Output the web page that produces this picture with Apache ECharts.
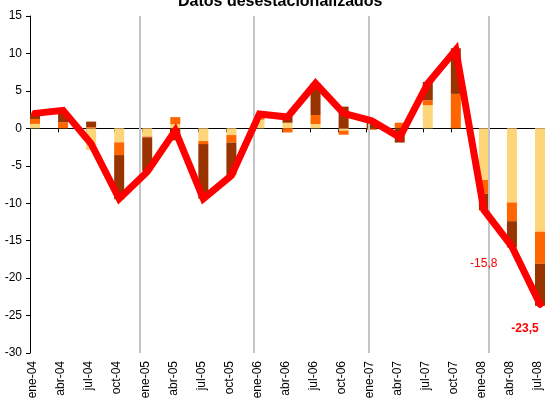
<!DOCTYPE html>
<html>
<head>
<meta charset="utf-8">
<script src="https://cdn.jsdelivr.net/npm/echarts@6/dist/echarts.min.js"></script>
<style>
  html, body { margin: 0; padding: 0; background: #fff; }
  #chart { width: 545px; height: 403px; }
</style>
</head>
<body>
<div id="chart"></div>
<script>
const quarters = ['ene-04', 'abr-04', 'jul-04', 'oct-04', 'ene-05', 'abr-05', 'jul-05', 'oct-05',
  'ene-06', 'abr-06', 'jul-06', 'oct-06', 'ene-07', 'abr-07', 'jul-07', 'oct-07',
  'ene-08', 'abr-08', 'jul-08'];
// stacked contributions (light, orange, dark)
const lightPart = [0.6, 0, -2.9, -1.87, -1.1, 0.55, -1.7, -0.9, 1.15, 0.75, 0.58, -0.3, 0, 0, 3.1, 0, -6.9, -9.9, -13.8];
const orangePart = [0.65, 0.8, 0.15, -1.7, -0.1, 0.95, -0.4, -1.0, 0.3, -0.55, 1.2, -0.55, -0.2, 0.75, 0.65, 4.6, -1.85, -2.5, -4.3];
const darkPart = [0.75, 1.5, 0.75, -5.9, -4.5, -1.6, -7.3, -4.3, 0.4, 1.0, 4.2, 2.9, 1.1, -1.9, 2.45, 6.1, -2.2, -3.5, -5.6];
// total (red line)
const totalLine = [2.0, 2.4, -2.05, -9.4, -5.8, -0.3, -9.4, -6.3, 1.9, 1.5, 6.0, 2.0, 1.0, -1.2, 6.0, 10.5, -10.9, -15.8, -23.5];
// year separators, in category units
const yearBreaks = [3.9, 7.96, 12.09, 16.36];

const STEP = 28.06;      // px per quarter
const SPAN = 515 / STEP; // visible width in quarters
const FONT = 'Arial, "Liberation Sans", sans-serif';

const chart = echarts.init(document.getElementById('chart'));

const fmt = (v) => v.toFixed(1).replace('.', ',');

const lineData = totalLine.map((v, i) => {
  const item = { value: v };
  if (i === quarters.length - 2) {
    item.label = { show: true, position: 'left', distance: 14, offset: [0, 17], fontSize: 12, color: '#FF0000' };
  }
  if (i === quarters.length - 1) {
    item.label = { show: true, position: 'bottom', distance: 18, offset: [-15, 0], fontSize: 12, fontWeight: 'bold', color: '#FF0000' };
  }
  return item;
});

const barSeries = (name, arr, color) => ({
  name,
  type: 'bar',
  xAxisIndex: 3,
  yAxisIndex: 1,
  stack: 'parts',
  barWidth: 10,
  clip: false,
  itemStyle: { color },
  data: arr,
  z: 2,
});

const idx = quarters.map((q, i) => i);
const yRange = { type: 'value', min: -30, max: 15, interval: 5 };

chart.setOption({
  animation: false,
  textStyle: { fontFamily: FONT },
  title: {
    text: 'Datos desestacionalizados',
    left: 178,
    top: -6,
    padding: 0,
    textStyle: { fontSize: 16, fontWeight: 'bold', color: '#000', fontFamily: FONT },
  },
  grid: [
    { left: 30, right: 0, top: 16, bottom: 50 },
    // data grid: each quarter's bar starts at its tick
    { left: 35, right: 5, top: 16, bottom: 50 },
  ],
  xAxis: [
    {
      type: 'value',
      gridIndex: 0,
      min: -0.107,
      max: SPAN - 0.107,
      position: 'bottom',
      axisLine: { show: false, onZero: false },
      axisTick: { show: false },
      splitLine: { show: false },
      axisLabel: {
        customValues: idx,
        rotate: 90,
        fontSize: 12,
        color: '#000',
        formatter: (v) => quarters[Math.round(v)] || '',
      },
    },
    {
      type: 'value',
      gridIndex: 0,
      min: 0,
      max: SPAN,
      position: 'bottom',
      axisLine: { show: true, onZero: true, lineStyle: { color: '#000', width: 1 } },
      axisTick: { show: true, customValues: idx, length: 4, lineStyle: { color: '#000' } },
      axisLabel: { show: false },
      splitLine: { show: false },
    },
    {
      type: 'value',
      gridIndex: 0,
      min: 0,
      max: SPAN,
      show: false,
    },
    {
      type: 'category',
      gridIndex: 1,
      data: quarters,
      boundaryGap: false,
      show: false,
    },
  ],
  yAxis: [
    Object.assign({}, yRange, {
      gridIndex: 0,
      axisLine: { show: true, onZero: false, lineStyle: { color: '#000', width: 1 } },
      axisTick: { show: true, length: 4, lineStyle: { color: '#000' } },
      axisLabel: { fontSize: 12, color: '#000' },
      splitLine: { show: false },
    }),
    Object.assign({}, yRange, { gridIndex: 1, show: false }),
  ],
  series: [
    {
      type: 'line',
      xAxisIndex: 2,
      yAxisIndex: 0,
      data: [],
      z: 1,
      markLine: {
        silent: true,
        symbol: ['none', 'none'],
        label: { show: false },
        lineStyle: { color: '#c4c4c4', width: 2, type: 'solid' },
        data: yearBreaks.map((v) => ({ xAxis: v })),
      },
    },
    barSeries('light', lightPart, '#FFD57A'),
    barSeries('orange', orangePart, '#FF6600'),
    barSeries('dark', darkPart, '#993300'),
    {
      type: 'line',
      xAxisIndex: 3,
      yAxisIndex: 1,
      data: lineData,
      symbol: 'circle',
      symbolSize: 1,
      showSymbol: true,
      clip: false,
      z: 5,
      itemStyle: { color: '#FF0000' },
      lineStyle: { color: '#FF0000', width: 7, cap: 'round', join: 'miter' },
      label: {
        formatter: (p) => fmt(p.value),
        fontFamily: FONT,
      },
    },
  ],
});
</script>
</body>
</html>
